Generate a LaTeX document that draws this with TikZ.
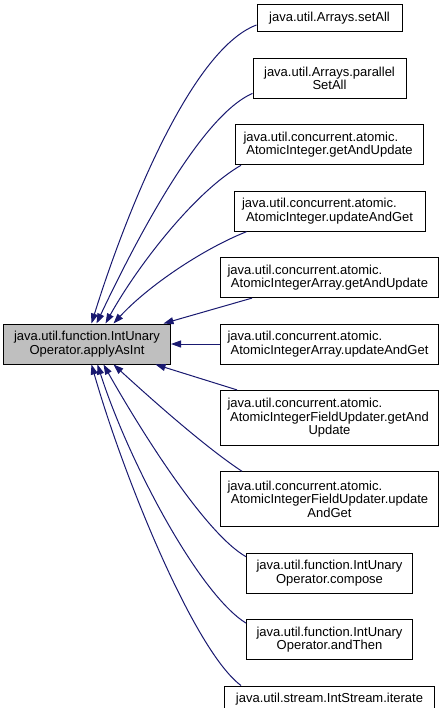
\documentclass[tikz,border=0pt]{standalone}
\usepackage{fontspec}
\setmainfont{Liberation Sans}
\usepackage{tikz}
\usetikzlibrary{positioning, arrows.meta, calc}
\usepackage{xcolor}
\definecolor{edgeblue}{HTML}{191970}
\definecolor{mainfill}{HTML}{BFBFBF}
\newcommand{\lpart}[1]{#1\hfill\null}

\begin{document}
\begin{tikzpicture}[
    x=1pt, y=-1pt,
    node distance=25.4pt,
    box/.style={draw, line width=1pt, align=center, inner sep=0pt, font=\fontsize{13}{13.5}\selectfont},
    caller/.style={box, fill=white},
    target/.style={box, fill=mainfill},
    arrow/.style={edgeblue, line width=1pt, -{Triangle[length=10pt, width=7pt]}}
]
\useasboundingbox (0,0) rectangle (445,708);

\node[caller, minimum width=145pt, text width=129pt, minimum height=27pt] (setall) at (329.5,18.5) {java.util.Arrays.setAll};

\node[caller, minimum width=153pt, text width=137pt, minimum height=40pt, below=of setall] (parallel) {java.util.Arrays.parallel\\ SetAll};

\node[caller, minimum width=188pt, text width=172pt, minimum height=40pt, below=of parallel] (aiget) {\lpart{java.util.concurrent.atomic.}\\ AtomicInteger.getAndUpdate};

\node[caller, minimum width=191pt, text width=175pt, minimum height=40pt, below=of aiget] (aiupdate) {\lpart{java.util.concurrent.atomic.}\\ AtomicInteger.updateAndGet};

\node[caller, minimum width=218pt, text width=204pt, minimum height=40pt, below=of aiupdate] (aaget) {\lpart{java.util.concurrent.atomic.}\\ AtomicIntegerArray.getAndUpdate};

\node[caller, minimum width=218pt, text width=204pt, minimum height=40pt, below=of aaget] (aaupdate) {\lpart{java.util.concurrent.atomic.}\\ AtomicIntegerArray.updateAndGet};

\node[caller, minimum width=218pt, text width=204pt, minimum height=55pt, below=of aaupdate] (fuget) {\lpart{java.util.concurrent.atomic.}\\ AtomicIntegerFieldUpdater.getAnd\\ Update};

\node[caller, minimum width=218pt, text width=204pt, minimum height=55pt, below=of fuget] (fuupdate) {\lpart{java.util.concurrent.atomic.}\\ AtomicIntegerFieldUpdater.update\\ AndGet};

\node[caller, minimum width=166pt, text width=152pt, minimum height=40pt, below=of fuupdate] (compose) {java.util.function.IntUnary\\ Operator.compose};

\node[caller, minimum width=166pt, text width=152pt, minimum height=40pt, below=of compose] (andthen) {java.util.function.IntUnary\\ Operator.andThen};

\node[caller, minimum width=210pt, text width=196pt, minimum height=27pt, below=of andthen] (iterate) {java.util.stream.IntStream.iterate};

\node[target, minimum width=167pt, text width=153pt, minimum height=40pt, left=49pt of aaupdate] (main) {java.util.function.IntUnary\\ Operator.applyAsInt};

\draw[arrow] ($(setall.west)+(0,6.5)$) .. controls +(-67,25) and +(32,-103) .. ($(main.north)+(4.5,0)$);
\draw[arrow] ($(parallel.west)+(0,15)$) .. controls +(-53,23) and +(37,-78) .. ($(main.north)+(9.5,0)$);
\draw[arrow] ($(aiget.south west)+(6,0)$) .. controls +(-47,27) and +(31,-56) .. ($(main.north)+(18.5,0)$);
\draw[arrow] ($(aiupdate.south west)+(13,0)$) .. controls +(-43,17) and +(35,-38) .. ($(main.north)+(26.5,0)$);
\draw[arrow] ($(aaget.south west)+(32,0)$) -- ($(main.north)+(76.5,0)$);
\draw[arrow] (aaupdate.west) -- (main.east);
\draw[arrow] ($(fuget.north west)+(17,0)$) -- ($(main.south)+(68.5,0)$);
\draw[arrow] ($(fuupdate.north west)+(22,0)$) .. controls +(-38,-25) and +(35,32) .. ($(main.south)+(26.5,0)$);
\draw[arrow] ($(compose.north west)+(0,4)$) .. controls +(-42,-24) and +(35,62) .. ($(main.south)+(16.5,0)$);
\draw[arrow] ($(andthen.north west)+(0,4)$) .. controls +(-47,-29) and +(31,97) .. ($(main.south)+(10.5,0)$);
\draw[arrow] ($(iterate.north west)+(17,0)$) .. controls +(-47,-35) and +(32,112) .. ($(main.south)+(4.5,0)$);

\end{tikzpicture}
\end{document}
